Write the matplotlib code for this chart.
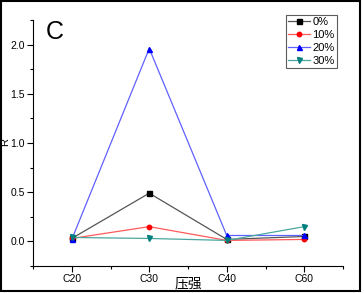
import matplotlib
matplotlib.use("Agg")
import matplotlib.pyplot as plt
from matplotlib.patches import Rectangle
from matplotlib.ticker import MultipleLocator, FixedLocator, FormatStrFormatter

plt.rcParams['font.family'] = ['Liberation Sans', 'Noto Sans CJK SC', 'DejaVu Sans']

categories = ["C20", "C30", "C40", "C60"]
series_names = ["0%", "10%", "20%", "30%"]
v0 = [0.03, 0.49, 0.02, 0.05]
v10 = [0.03, 0.15, 0.01, 0.02]
v20 = [0.02, 1.96, 0.06, 0.06]
v30 = [0.04, 0.03, 0.01, 0.15]

values = [v0, v10, v20, v30]
line_colors = ["#555555", "#ff5a5a", "#6060ff", "#4aa8a0"]
marker_colors = ["#000000", "#ff0000", "#0000ff", "#007f7f"]
markers = ["s", "o", "^", "v"]

fig = plt.figure(figsize=(3.64, 2.93), dpi=100)
ax = fig.add_axes([33/364, 1 - 266/293, (343-33)/364, (266-20)/293])

x = list(range(len(categories)))
for vals, lc, mc, mk, name in zip(values, line_colors, marker_colors, markers, series_names):
    ax.plot(x, vals, color=lc, lw=0.9, marker=mk, markersize=3.6 if mk != "o" else 3.2,
            markerfacecolor=mc, markeredgecolor=mc, label=name)

ax.set_xlim(-0.5, 3.5)
ax.set_ylim(-0.25, 2.25)
ax.set_xticks(x)
ax.set_xticklabels(categories)
ax.xaxis.set_minor_locator(FixedLocator([-0.5, 0.5, 1.5, 2.5, 3.5]))
ax.yaxis.set_major_locator(MultipleLocator(0.5))
ax.yaxis.set_minor_locator(MultipleLocator(0.25))
ax.yaxis.set_major_formatter(FormatStrFormatter('%.1f'))

for s in ["top", "right"]:
    ax.spines[s].set_visible(False)
ax.spines["left"].set_linewidth(0.8)
ax.spines["bottom"].set_linewidth(0.8)
ax.tick_params(which="major", direction="out", length=4, width=0.8, labelsize=7.5, pad=2)
ax.tick_params(which="minor", direction="out", length=2.5, width=0.8)

fig.text(5.5/364, 1 - 142/293, "R", fontsize=8, rotation=90, ha="center", va="center")
fig.text(188/364, 1 - 283/293, "压强", fontsize=10, family=['Noto Sans CJK SC', 'DejaVu Sans'],
         ha="center", va="center")

ax.text(0.04, 1.0, "C", transform=ax.transAxes, fontsize=18, va="top", ha="left")

leg = fig.legend(loc="upper right", bbox_to_anchor=(337/364, 1 - 15/293), fontsize=8, frameon=True,
                 fancybox=False, edgecolor="#333333", handlelength=2.0, handletextpad=0.2,
                 labelspacing=0.26, borderpad=0.2, borderaxespad=0.0)
leg.get_frame().set_linewidth(0.8)

fig.patches.append(Rectangle((1/364, 1 - 291/293), 359/364, 290/293, transform=fig.transFigure,
                             fill=False, edgecolor="black", lw=1.5))

fig.savefig("out.png", dpi=100)
